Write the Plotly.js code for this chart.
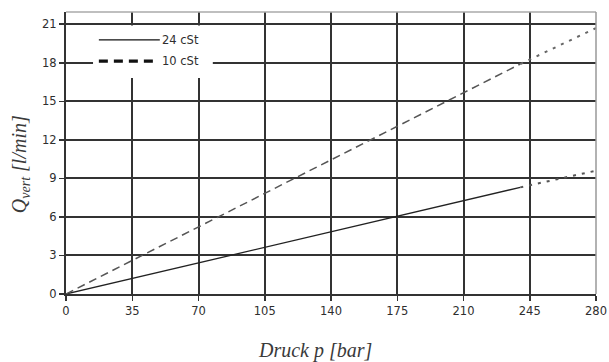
<!DOCTYPE html>
<html>
<head>
<meta charset="utf-8">
<script src="https://cdn.plot.ly/plotly-3.0.1.min.js"></script>
<style>html,body{margin:0;padding:0;background:#fff;}#chart{width:609px;height:362px;}</style>
</head>
<body>
<div id="chart"></div>
<script>
// Data
const seriesNames = ["24 cSt", "10 cSt"];
// 24 cSt: measured (solid) and extrapolated (dotted)
const p24Solid = [0, 240];
const q24Solid = [0, 8.3];
const p24Dot = [240, 280];
const q24Dot = [8.3, 9.6];
// 10 cSt: measured (dashed) and extrapolated (dotted)
const p10Dash = [0, 240];
const q10Dash = [0, 17.9];
const p10Dot = [240, 280];
const q10Dot = [17.9, 20.7];

const xTicks = [0, 35, 70, 105, 140, 175, 210, 245, 280];
const yTicks = [0, 3, 6, 9, 12, 15, 18, 21];

const xTitle = '<i>Druck p [bar]</i>';
const yTitle = '<i>Q<sub>vert</sub> [l/min]</i>';

const ink = '#2e2e2e';
const tickFont = {family: 'DejaVu Sans, Verdana, sans-serif', size: 11.5, color: ink};
const traces = [
  {x: p24Solid, y: q24Solid, mode: 'lines', line: {color: '#222', width: 1.3}, showlegend: false, hoverinfo: 'skip'},
  {x: p24Dot, y: q24Dot, mode: 'lines', line: {color: '#555', width: 2, dash: '3px,6px'}, showlegend: false, hoverinfo: 'skip'},
  {x: p10Dash, y: q10Dash, mode: 'lines', line: {color: '#555', width: 1.5, dash: '8px,5px'}, showlegend: false, hoverinfo: 'skip'},
  {x: p10Dot, y: q10Dot, mode: 'lines', line: {color: '#666', width: 2, dash: '3px,6px'}, showlegend: false, hoverinfo: 'skip'}
];

// legend box geometry in paper fractions (plot area: 530 x 282 px)
const legendShapes = [
  {type: 'rect', xref: 'paper', yref: 'paper', x0: 0.051, x1: 0.277, y0: 0.766, y1: 0.952, fillcolor: '#fff', line: {width: 0}, layer: 'above'},
  {type: 'line', xref: 'paper', yref: 'paper', x0: 0.062, x1: 0.177, y0: 0.901, y1: 0.901, line: {color: '#111', width: 1.2}, layer: 'above'},
  {type: 'line', xref: 'paper', yref: 'paper', x0: 0.062, x1: 0.166, y0: 0.826, y1: 0.826, line: {color: '#111', width: 3.2, dash: '9px,6px'}, layer: 'above'}
];

const layout = {
  width: 609, height: 362,
  margin: {l: 66, r: 13, t: 12, b: 68},
  paper_bgcolor: '#fff', plot_bgcolor: '#fff',
  showlegend: false,
  font: {family: 'DejaVu Sans, Verdana, sans-serif', size: 11, color: ink},
  xaxis: {
    range: [0, 280], tickvals: xTicks, ticktext: xTicks.map(String),
    showgrid: true, gridcolor: '#333', gridwidth: 2,
    zeroline: false, showline: true, linecolor: '#333', linewidth: 2,
    ticks: 'outside', ticklen: 5, tickcolor: '#333', tickwidth: 1.5,
    tickfont: tickFont
  },
  yaxis: {
    range: [0, 21.95], tickvals: yTicks, ticktext: yTicks.map(String),
    showgrid: true, gridcolor: '#333', gridwidth: 2,
    zeroline: false, showline: true, linecolor: '#333', linewidth: 2,
    ticks: 'outside', ticklen: 5, tickcolor: '#333', tickwidth: 1.5,
    tickfont: tickFont
  },
  annotations: [
    {text: seriesNames[0], xref: 'paper', yref: 'paper', x: 0.177, y: 0.901, xanchor: 'left', yanchor: 'middle', showarrow: false, font: {family: 'DejaVu Sans, Verdana, sans-serif', size: 11.5, color: ink}},
    {text: seriesNames[1], xref: 'paper', yref: 'paper', x: 0.177, y: 0.826, xanchor: 'left', yanchor: 'middle', showarrow: false, font: {family: 'DejaVu Sans, Verdana, sans-serif', size: 11.5, color: ink}},
    {text: xTitle, xref: 'paper', yref: 'paper', x: 0.47, y: -0.2, xanchor: 'center', yanchor: 'middle', showarrow: false, font: {family: 'Liberation Serif, Times New Roman, serif', size: 20, color: '#3a3a3a'}},
    {text: yTitle, xref: 'paper', yref: 'paper', x: -0.087, y: 0.46, xanchor: 'center', yanchor: 'middle', textangle: -90, showarrow: false, font: {family: 'Liberation Serif, Times New Roman, serif', size: 20, color: '#3a3a3a'}}
  ],
  shapes: [
    {type: 'line', xref: 'paper', yref: 'paper', x0: 0, x1: 1, y0: 1, y1: 1, line: {color: '#aaa', width: 1.5}, layer: 'above'},
    {type: 'line', xref: 'paper', yref: 'paper', x0: 1, x1: 1, y0: 0, y1: 1, line: {color: '#999', width: 1.5}, layer: 'above'}
  ].concat(legendShapes)
};

Plotly.newPlot('chart', traces, layout, {displayModeBar: false, staticPlot: true});
</script>
</body>
</html>
